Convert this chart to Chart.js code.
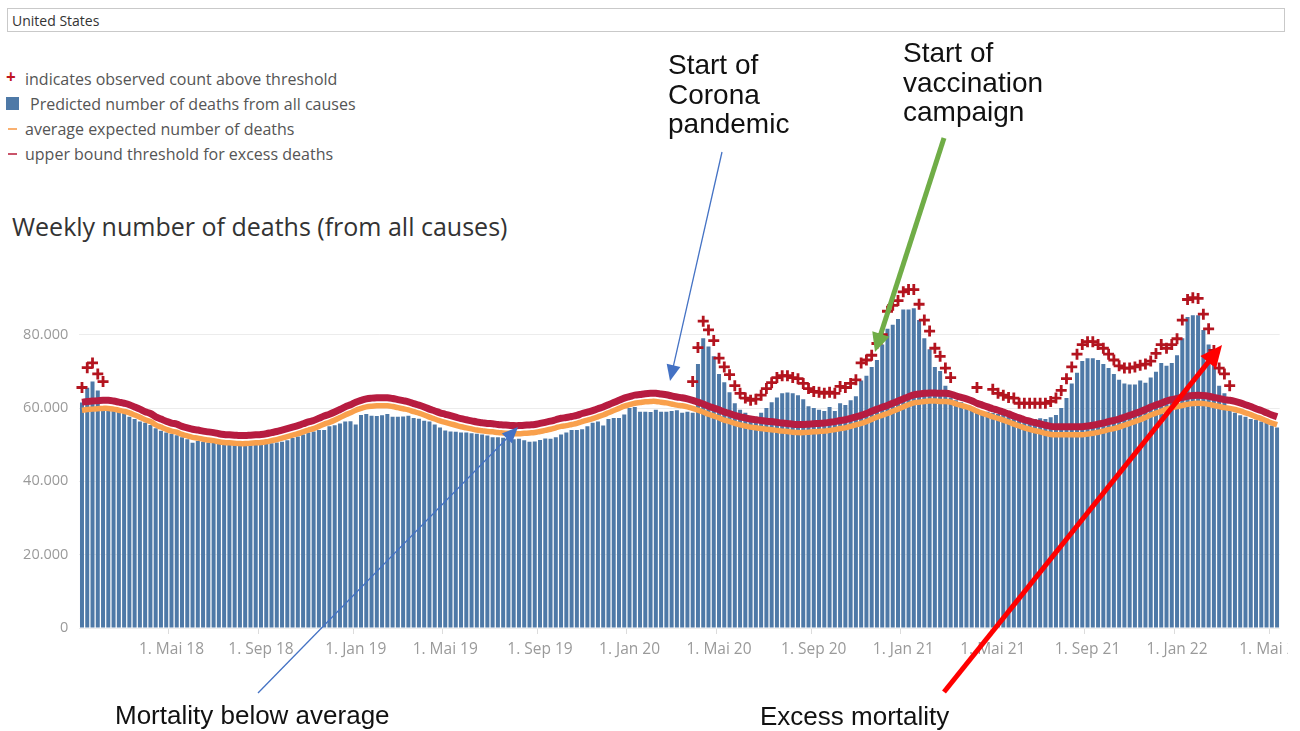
<!DOCTYPE html>
<html>
<head>
<meta charset="utf-8">
<script src="https://cdn.jsdelivr.net/npm/chart.js@4.4.1/dist/chart.umd.min.js"></script>
<style>
  html, body { margin: 0; padding: 0; background: #fff; }
  body { width: 1300px; height: 731px; position: relative; overflow: hidden; font-family: "Open Sans", sans-serif; }
  #select { position: absolute; left: 7px; top: 8px; width: 1278px; height: 24px; border: 1px solid #c9c9c9; box-sizing: border-box; }
  #select span { position: absolute; left: 4px; top: 2px; font-size: 14px; color: #333; }
  .leg { position: absolute; left: 0; font-size: 16px; color: #555; white-space: nowrap; line-height: 20px; }
  .leg .txt { position: absolute; top: 0; }
  #title { position: absolute; left: 12px; top: 209px; font-size: 25px; color: #333; white-space: nowrap; }
  .ann { position: absolute; font-family: "Liberation Sans", Arial, sans-serif; color: #111; white-space: nowrap; }
  #wrap { position: absolute; left: 0; top: 260px; width: 1288px; height: 420px; overflow: hidden; }
  svg { position: absolute; left: 0; top: 0; }
</style>
</head>
<body>
<div id="select"><span>United States</span></div>

<div class="leg" style="top:69px;"><span style="position:absolute;left:6px;top:-2px;color:#c0161f;font-weight:bold;font-size:17px;">+</span><span class="txt" style="left:25px;">indicates observed count above threshold</span></div>
<div class="leg" style="top:94px;"><span style="position:absolute;left:6px;top:3px;width:13px;height:13px;background:#4e79a7;"></span><span class="txt" style="left:30px;">Predicted number of deaths from all causes</span></div>
<div class="leg" style="top:119px;"><span style="position:absolute;left:8px;top:9px;width:9px;height:2px;background:#f9b070;"></span><span class="txt" style="left:25px;">average expected number of deaths</span></div>
<div class="leg" style="top:144px;"><span style="position:absolute;left:8px;top:9px;width:9px;height:2px;background:#c9546a;"></span><span class="txt" style="left:25px;">upper bound threshold for excess deaths</span></div>

<div id="title">Weekly number of deaths (from all causes)</div>

<div id="wrap"><canvas id="c" width="1288" height="420"></canvas></div>

<svg id="arrows" width="1300" height="731"></svg>

<div class="ann" style="left:668px;top:50px;font-size:28px;line-height:29.5px;">Start of<br>Corona<br>pandemic</div>
<div class="ann" style="left:903px;top:38px;font-size:28px;line-height:29.5px;">Start of<br>vaccination<br>campaign</div>
<div class="ann" style="left:115px;top:700px;font-size:26px;line-height:30px;">Mortality below average</div>
<div class="ann" style="left:760px;top:701px;font-size:26px;line-height:30px;">Excess mortality</div>

<script>
// ---------- DATA ----------
const firstWeekEnding = '2018-01-06';

const predicted = [
61500,65500,67200,64800,60500,59300,59200,59000,58600,57600,
57000,56300,56000,55400,54500,53800,53300,53000,52600,52000,
51500,50500,51000,50800,50600,50500,50500,50400,50300,50200,
50000,50000,50100,50300,50300,50500,50400,50600,50800,51200,
51800,52200,52800,53300,53600,54000,54000,55000,55300,55800,
56300,56400,55500,58100,58400,57900,57800,58000,58400,57600,
57600,57700,57900,57300,57100,56500,56300,55500,54700,53900,
53600,53500,53300,53300,53100,53000,52800,52500,52000,52000,
51900,51600,51500,51600,51200,50800,50900,51300,51700,51600,
52000,52800,53300,54000,54000,54200,55000,56000,56300,55200,
57000,57300,57300,58200,60000,60300,59000,59000,58900,59500,
59000,59000,59200,59400,58700,59000,58700,72000,79000,76800,
74100,69300,67000,64300,61300,59500,58700,57600,57600,58700,
60000,61600,62900,64000,64200,64000,63500,62400,60500,60000,
59500,59200,60300,59200,61300,60800,62100,63200,67500,68800,
71200,73100,77300,81600,82700,84300,86900,86900,87200,84000,
79000,76000,71200,70100,66100,62900,62100,61600,60800,60000,
59600,59200,59000,58700,58400,58100,57600,57400,57300,56800,
56600,57000,57200,57000,57500,58100,60000,62700,66700,69600,
72800,73600,73600,73100,72000,70900,69300,67700,66700,66400,
66400,67500,66900,68300,69900,72300,71500,72300,74400,79000,
84800,85300,85300,81300,77300,72000,66100,64000,59500,58700,
58000,57600,57000,56800,56300,56000,55200,54700
];

const averageExpected = [
59400,59600,59700,59800,59900,59900,59700,59400,59100,58700,
58100,57500,56800,56300,55400,54800,54200,53700,53400,52800,
52400,52000,51800,51500,51300,51100,50800,50600,50500,50400,
50300,50300,50400,50500,50600,50800,51100,51400,51800,52200,
52600,53000,53500,54000,54400,55000,55600,56100,56700,57400,
58100,58700,59400,59900,60300,60500,60600,60600,60600,60400,
60100,59800,59500,59000,58600,58100,57500,57000,56500,56100,
55700,55300,54900,54600,54300,54000,53800,53600,53500,53300,
53200,53100,53000,53000,53100,53200,53300,53600,53900,54200,
54600,55000,55200,55500,55800,56300,56700,57100,57600,58100,
58700,59300,59900,60500,60900,61300,61500,61700,61800,61800,
61600,61400,61100,60800,60600,60300,59900,59400,58900,58300,
57800,57300,56700,56300,55800,55400,55100,54800,54600,54400,
54200,54100,53900,53700,53600,53400,53300,53300,53400,53500,
53600,53700,53900,54100,54400,54600,55000,55400,55800,56300,
56900,57500,58000,58500,59100,59700,60300,60900,61400,61600,
61800,61900,61900,61800,61800,61600,61100,60700,60300,59800,
59100,58600,58100,57600,57200,56700,56200,55600,55100,54600,
54200,53800,53500,53100,52800,52700,52700,52700,52700,52700,
52700,52900,53100,53400,53700,54100,54400,54800,55300,55800,
56300,56800,57400,58100,58600,59100,59700,60100,60400,60700,
61000,61200,61300,61200,61000,60700,60400,60100,59900,59600,
59200,58700,58200,57600,57100,56500,55900,55400
];

const upperThreshold = [
61600,61800,61900,62000,62100,62100,61900,61600,61300,60900,
60300,59700,59000,58500,57600,57000,56400,55900,55600,55000,
54600,54200,54000,53700,53500,53300,53000,52800,52700,52600,
52500,52500,52600,52700,52800,53000,53300,53600,54000,54400,
54800,55200,55700,56200,56600,57200,57800,58300,58900,59600,
60300,60900,61600,62100,62500,62700,62800,62800,62800,62600,
62300,62000,61700,61200,60800,60300,59700,59200,58700,58300,
57900,57500,57100,56800,56500,56200,56000,55800,55700,55500,
55400,55300,55200,55200,55300,55400,55500,55800,56100,56400,
56800,57200,57400,57700,58000,58500,58900,59300,59800,60300,
60900,61500,62100,62700,63100,63500,63700,63900,64000,64000,
63800,63600,63300,63000,62800,62500,62100,61600,61100,60500,
60000,59500,58900,58500,58000,57600,57300,57000,56800,56600,
56400,56300,56100,55900,55800,55600,55500,55500,55600,55700,
55800,55900,56100,56300,56600,56800,57200,57600,58000,58500,
59100,59700,60200,60700,61300,61900,62500,63100,63600,63800,
64000,64100,64100,64000,64000,63800,63300,62900,62500,62000,
61300,60800,60300,59800,59400,58900,58400,57800,57300,56800,
56400,56000,55700,55300,55000,54900,54900,54900,54900,54900,
54900,55100,55300,55600,55900,56300,56600,57000,57500,58000,
58500,59000,59600,60300,60800,61300,61900,62300,62600,62900,
63200,63400,63500,63400,63200,62900,62600,62300,62100,61800,
61400,60900,60400,59800,59300,58700,58100,57600
];

// observed counts above threshold (week index -> value)
const aboveWeeks = [0,1,2,3,4,
116,117,118,119,120,121,122,123,124,125,126,127,128,129,130,131,132,133,134,135,136,137,138,139,140,
141,142,143,144,145,146,147,148,149,150,151,152,153,154,155,156,157,158,159,160,161,162,163,164,165,
170,173,174,175,176,177,178,179,180,181,182,183,184,185,186,187,188,189,190,191,192,193,194,195,196,
197,198,199,200,201,202,203,204,205,206,207,208,209,210,211,212,213,214,215,216,217,218];
const aboveValues = [65600,71000,72300,69300,67200,
67200,76500,83700,81300,78400,73600,71200,69100,66100,64000,62700,62100,62400,63500,65300,66900,68300,68800,68800,68300,68000,66700,65300,64500,64300,
64000,64300,64000,65900,65600,66700,67700,72300,73100,74400,77600,80000,86400,88000,89300,91700,92300,92300,88300,84000,81000,76300,74100,70900,68300,
65600,65100,64000,63500,62900,62700,61300,61300,61300,61300,61300,61300,61800,62700,64800,68000,71200,74700,77300,78100,78100,77300,76300,74700,73100,
71500,70900,70900,71200,71700,72000,72800,74900,77300,76300,77300,78900,84000,89600,90100,89900,85600,81600,75700,70900,69300,66100];

const tickDates  = ['2018-05-01','2018-09-01','2019-01-01','2019-05-01','2019-09-01','2020-01-01','2020-05-01','2020-09-01','2021-01-01','2021-05-01','2021-09-01','2022-01-01','2022-05-01'];
const tickLabels = ['1. Mai 18','1. Sep 18','1. Jan 19','1. Mai 19','1. Sep 19','1. Jan 20','1. Mai 20','1. Sep 20','1. Jan 21','1. Mai 21','1. Sep 21','1. Jan 22','1. Mai 22'];

// ---------- BUILD ----------
const DAY = 86400000;
const start = Date.parse(firstWeekEnding + 'T00:00:00Z');
const categories = predicted.map((_, i) => new Date(start + i * 7 * DAY).toISOString().slice(0, 10));
const observed = predicted.map(() => null);
aboveWeeks.forEach((w, k) => { observed[w] = aboveValues[k]; });

function weekLabel(index) {
  const end = Date.parse(categories[index] + 'T00:00:00Z');
  const begin = end - 6 * DAY;
  for (let k = 0; k < tickDates.length; k++) {
    const t = Date.parse(tickDates[k] + 'T00:00:00Z');
    if (t >= begin && t <= end) return tickLabels[k];
  }
  return '';
}

new Chart(document.getElementById('c'), {
  type: 'bar',
  data: {
    labels: categories,
    datasets: [
      { type: 'line', label: 'observed above threshold', data: observed, showLine: false,
        pointStyle: 'cross', pointRadius: 5.5, pointBorderWidth: 2.8, pointBorderColor: '#b3141f',
        pointBackgroundColor: '#b3141f', borderColor: '#b3141f', order: 0 },
      { type: 'line', label: 'upper bound threshold', data: upperThreshold, borderColor: '#b71c40',
        borderWidth: 7, pointRadius: 0, tension: 0.4, fill: false, order: 1 },
      { type: 'line', label: 'average expected', data: averageExpected, borderColor: '#f9a04c',
        borderWidth: 5.5, pointRadius: 0, tension: 0.4, fill: false, order: 2 },
      { type: 'bar', label: 'Predicted', data: predicted, backgroundColor: '#4e79a7',
        barPercentage: 0.76, categoryPercentage: 1.0, borderWidth: 0, order: 3 }
    ]
  },
  options: {
    responsive: false,
    animation: false,
    devicePixelRatio: 1,
    layout: { padding: { top: 11.75, right: 0, bottom: 0, left: 0 } },
    plugins: { legend: { display: false }, tooltip: { enabled: false } },
    scales: {
      x: {
        type: 'category',
        offset: true,
        afterFit: (s) => { s.height = 52; },
        border: { display: false },
        grid: {
          drawOnChartArea: false, drawTicks: true, tickLength: 6,
          color: (ctx) => (ctx.tick && ctx.tick.label) ? '#dcdcdc' : 'rgba(0,0,0,0)'
        },
        ticks: {
          autoSkip: false, maxRotation: 0, minRotation: 0, padding: 6,
          color: '#9a9a9a', font: { family: 'Open Sans', size: 15.5 },
          callback: (v, i) => weekLabel(i)
        }
      },
      y: {
        min: 0, max: 95000,
        afterFit: (s) => { s.width = 79.35; },
        afterBuildTicks: (s) => { s.ticks = [0, 20000, 40000, 60000, 80000].map(v => ({ value: v })); },
        border: { display: false },
        grid: { color: '#ececec', drawTicks: false },
        ticks: {
          padding: 11, color: '#9a9a9a', font: { family: 'Open Sans', size: 14.5 },
          callback: (v) => v === 0 ? '0' : (v / 1000) + '.000'
        }
      }
    }
  }
});

// ---------- ANNOTATION ARROWS ----------
const svg = document.getElementById('arrows');
const NS = 'http://www.w3.org/2000/svg';
function arrow(x0, y0, x1, y1, color, width, headLen, headW) {
  const dx = x1 - x0, dy = y1 - y0, len = Math.hypot(dx, dy);
  const ux = dx / len, uy = dy / len;
  const bx = x1 - ux * headLen, by = y1 - uy * headLen;
  const line = document.createElementNS(NS, 'line');
  line.setAttribute('x1', x0); line.setAttribute('y1', y0);
  line.setAttribute('x2', bx + ux * 2); line.setAttribute('y2', by + uy * 2);
  line.setAttribute('stroke', color); line.setAttribute('stroke-width', width);
  svg.appendChild(line);
  const px = -uy, py = ux;
  const poly = document.createElementNS(NS, 'polygon');
  poly.setAttribute('points', `${x1},${y1} ${bx + px * headW / 2},${by + py * headW / 2} ${bx - px * headW / 2},${by - py * headW / 2}`);
  poly.setAttribute('fill', color);
  svg.appendChild(poly);
}
arrow(722, 152, 670, 381, '#4472c4', 1.3, 16, 14);
arrow(258, 693, 518, 427, '#4472c4', 1.3, 16, 14);
arrow(944, 138, 875, 352, '#70ad47', 5, 19, 18);
arrow(944, 692, 1222, 345, '#ff0000', 5, 22, 20);
</script>
</body>
</html>
